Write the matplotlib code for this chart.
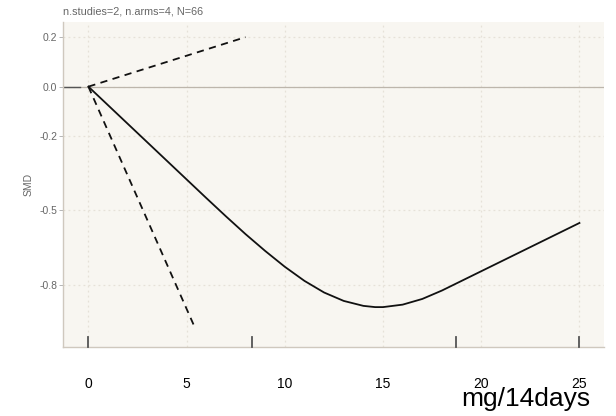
import numpy as np
import matplotlib.pyplot as plt

plt.rcParams['font.family'] = ['Liberation Sans', 'DejaVu Sans']

# pooled dose-response curve
dose = [0, 1, 2, 3, 4, 5, 6, 7, 8, 9, 10, 11, 12, 13, 14, 14.6, 15, 16, 17,
        18, 19, 20, 21, 22, 23, 24, 25]
smd = [0, -0.075, -0.150, -0.225, -0.300, -0.375, -0.450, -0.524, -0.596,
       -0.664, -0.728, -0.785, -0.832, -0.866, -0.886, -0.891, -0.891,
       -0.881, -0.858, -0.824, -0.785, -0.746, -0.707, -0.668, -0.629,
       -0.590, -0.551]

# study-specific lines
study1_x = [0, 8.0]
study1_y = [0, 0.2]
study2_x = [0, 5.4]
study2_y = [0, -0.97]

# doses observed (rug)
rug_doses = [0, 8.31, 18.73, 25]

xticks = [0, 5, 10, 15, 20, 25]
yticks = [0.2, 0.0, -0.2, -0.5, -0.8]
ytick_labels = ['0.2', '0.0', '-0.2', '-0.5', '-0.8']

fig = plt.figure(figsize=(6.16, 4.16), dpi=100)
ax = fig.add_axes([0.103, 0.166, 0.8775, 0.781])
ax.set_facecolor('#f8f6f1')

ax.set_xlim(-1.27, 26.25)
ax.set_ylim(-1.052, 0.261)

for x in xticks:
    ax.axvline(x, color='#e6e1d8', lw=0.9, ls=(0, (1.5, 2.5)), zorder=0)
for y in yticks:
    ax.axhline(y, color='#e6e1d8', lw=0.9, ls=(0, (1.5, 2.5)), zorder=0)

ax.axhline(0, color='#bdb6ac', lw=0.9, zorder=1)
ax.plot([-1.27, -0.45], [0, 0], color='#555555', lw=1.0, zorder=2)

ax.plot(study1_x, study1_y, color='#111111', lw=1.3, ls=(0, (4, 3)), zorder=3)
ax.plot(study2_x, study2_y, color='#111111', lw=1.3, ls=(0, (4, 3)), zorder=3)
ax.plot(dose, smd, color='#111111', lw=1.3, zorder=4)

# rug
for d in rug_doses:
    ax.plot([d, d], [0, 0.03], transform=ax.get_xaxis_transform(),
            color='#555555', lw=1.3, zorder=3, clip_on=False)

for s in ['top', 'right']:
    ax.spines[s].set_visible(False)
for s in ['left', 'bottom']:
    ax.spines[s].set_color('#cfc8be')
    ax.spines[s].set_linewidth(1.0)

ax.set_yticks(yticks)
ax.set_yticklabels(ytick_labels)
ax.tick_params(axis='y', length=3, width=0.6, color='#aaaaaa', labelsize=7.5,
               labelcolor='#666666', pad=1.5)
ax.set_xticks(xticks)
ax.set_xticklabels([str(t) for t in xticks])
ax.tick_params(axis='x', length=0, labelsize=10, labelcolor='black', pad=22)

ax.set_ylabel('SMD', fontsize=7.5, color='#666666', labelpad=4)

fig.text(63 / 616, 1 - 11 / 416, 'n.studies=2, n.arms=4, N=66', fontsize=7.8,
         color='#666666', ha='left', va='center')
fig.text(590 / 616, 1 - 399 / 416, 'mg/14days', fontsize=19, color='black',
         ha='right', va='center')

fig.savefig('out.png', dpi=100)
